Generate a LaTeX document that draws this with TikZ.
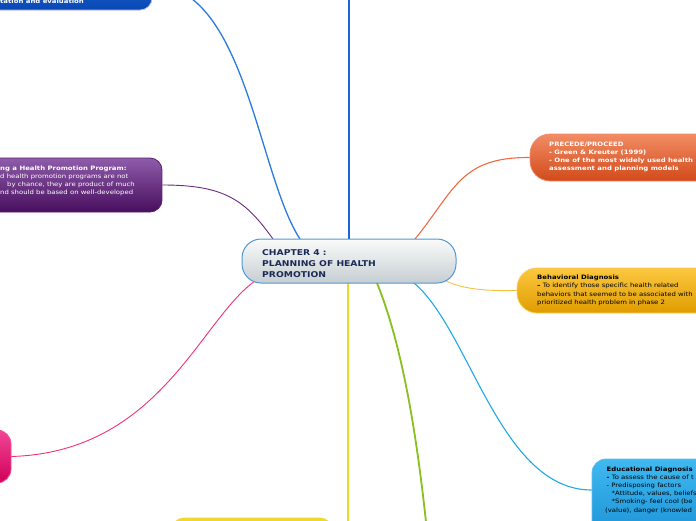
\documentclass[tikz,border=0pt]{standalone}
\usepackage{fontspec}
\setmainfont[FakeStretch=1.15]{DejaVu Sans}
\usetikzlibrary{calc}
\definecolor{cBlueLine}{HTML}{1A66D6}
\definecolor{cBlueCurve}{HTML}{2A7AE0}
\definecolor{cPurpleLine}{HTML}{6A2A80}
\definecolor{cPinkLine}{HTML}{F0307A}
\definecolor{cOrangeLine}{HTML}{F06A40}
\definecolor{cYellowLine}{HTML}{F8C040}
\definecolor{cCyanLine}{HTML}{20A8E8}
\definecolor{cGreenLine}{HTML}{88C020}
\definecolor{cYellowV}{HTML}{E8D830}
\definecolor{cNavy}{HTML}{1A2A55}
\tikzset{
  shapebox/.style={draw, rectangle, inner sep=0pt, line width=0.8pt},
  txt/.style={inner sep=0pt, anchor=base west},
  ptxt/.style={inner sep=0pt, anchor=base west, text=white, font=\fontsize{6}{8}\selectfont},
  conn/.style={line width=1.1pt},
}
\newcommand{\mylines}[1]{\begin{tabular}[t]{@{}l@{}}#1\end{tabular}}
\begin{document}
\begin{tikzpicture}[x=1pt,y=-1pt]
\useasboundingbox (0,0) rectangle (696,520);
\clip (0,0) rectangle (696,520);

\coordinate (cnA) at (349,239);
\coordinate (cnB) at (300,239);
\coordinate (cnC) at (273,239);
\coordinate (cnD) at (415,239);
\coordinate (cnE) at (446,281);
\coordinate (cnF) at (414,283);
\coordinate (cnG) at (377,283);
\coordinate (cnH) at (348,283);
\coordinate (cnI) at (255,281);
\coordinate (topEnd) at (349,-2);
\coordinate (greenEnd) at (426,522);
\coordinate (yellowEnd) at (348,522);

% nodes
\node[shapebox, draw=white!70!blue, rounded corners=12pt, minimum width=182pt, minimum height=50pt,
  top color={rgb,255:red,40;green,110;blue,220}, bottom color={rgb,255:red,8;green,72;blue,180}] (nTop) at (61,-15) {};
\node[shapebox, draw={rgb,255:red,90;green,30;blue,110}, rounded corners=12pt, minimum width=192pt, minimum height=54pt,
  top color={rgb,255:red,142;green,92;blue,170}, bottom color={rgb,255:red,72;green,14;blue,94}] (nPurple) at (66,185) {};
\node[shapebox, draw={rgb,255:red,240;green,80;blue,150}, rounded corners=14pt, minimum width=51pt, minimum height=53pt,
  top color={rgb,255:red,242;green,70;blue,150}, bottom color={rgb,255:red,208;green,0;blue,90}] (nPink) at (-14.5,456.5) {};
\node[shapebox, draw={rgb,255:red,240;green,140;blue,110}, rounded corners=20pt, minimum width=230pt, minimum height=47pt,
  top color={rgb,255:red,242;green,140;blue,100}, bottom color={rgb,255:red,210;green,74;blue,26}] (nOrange) at (645,157.5) {};
\node[shapebox, draw={rgb,255:red,250;green,205;blue,90}, rounded corners=20pt, minimum width=243pt, minimum height=45pt,
  top color={rgb,255:red,252;green,200;blue,64}, bottom color={rgb,255:red,224;green,156;blue,0}] (nYellow) at (638.5,290.5) {};
\node[shapebox, draw={rgb,255:red,90;green,190;blue,240}, rounded corners=14pt, minimum width=168pt, minimum height=101pt,
  top color={rgb,255:red,64;green,184;blue,240}, bottom color={rgb,255:red,16;green,136;blue,208}] (nCyan) at (676,509.5) {};
\node[shapebox, draw={rgb,255:red,240;green,216;blue,48}, rounded corners=12pt, minimum width=160pt, minimum height=42pt,
  fill={rgb,255:red,240;green,216;blue,48}] (nBottom) at (252,539) {};

% connectors
\draw[conn, cBlueLine, line width=1.4pt] (cnA) -- (topEnd);
\draw[conn, cBlueCurve, line width=1.3pt] (cnB) .. controls (258,175) and (245,-15) .. (nTop.east);
\draw[conn, cPurpleLine, line width=0.9pt] (cnC) .. controls (245,200) and (225,185) .. (nPurple.east);
\draw[conn, cPinkLine, line width=0.9pt] (cnI) .. controls (200,320) and (160,452) .. (nPink.east);
\draw[conn, cOrangeLine] (cnD) .. controls (455,190) and (460,157) .. (nOrange.west);
\draw[conn, cYellowLine, line width=0.9pt] (cnE) .. controls (465,290) and (490,291) .. (nYellow.west);
\draw[conn, cCyanLine] (cnF) .. controls (470,330) and (500,490) .. (nCyan.west |- 0,490);
\draw[conn, cGreenLine, line width=1.8pt] (cnG) .. controls (400,340) and (415,420) .. (greenEnd);
\draw[conn, cYellowV, line width=1.1pt] (cnH) -- (yellowEnd);

% central node
\node[shapebox, draw={rgb,255:red,79;green,152;blue,216}, line width=1pt, rounded corners=19pt, minimum width=214pt, minimum height=44pt,
  top color={rgb,255:red,250;green,251;blue,251}, bottom color={rgb,255:red,198;green,206;blue,209}] (nCenter) at (349,261) {};

% texts
\node[txt, text=cNavy] (tCenter) at (262,255)
  {\fontsize{8}{11}\selectfont\bfseries\mylines{CHAPTER 4 :\\PLANNING OF HEALTH\\PROMOTION}};
\node[txt, text=white] (tTop) at (0,3.5) {\fontsize{6}{8}\selectfont\bfseries tation and evaluation};
\node[ptxt, font=\fontsize{6}{8}\selectfont\bfseries] (tPurpleA) at (0,170) {ng a Health Promotion Program:};
\node[ptxt] (tPurpleB) at (0,178) {d health promotion programs are not};
\node[ptxt] (tPurpleC) at (7,186) {by chance, they are product of much};
\node[ptxt] (tPurpleD) at (0,194) {nd should be based on well-developed};
\node[txt, text=white] (tOrange) at (549,146)
  {\fontsize{6}{8}\selectfont\bfseries\mylines{PRECEDE/PROCEED\\- Green \& Kreuter (1999)\\- One of the most widely used health\\assessment and planning models}};
\node[txt, text=black] (tYellow) at (537,279.5)
  {\fontsize{6}{8.4}\selectfont\mylines{\textbf{Behavioral Diagnosis}\\\textbf{--} To identify those specific health related\\behaviors that seemed to be associated with\\prioritized health problem in phase 2}};
\node[txt, text=black] (tCyan) at (606.5,471.5)
  {\fontsize{6}{8.1}\selectfont\mylines{\textbf{Educational Diagnosis}\\\textbf{-} To assess the cause of t\\- Predisposing factors\\\hspace*{5pt}*Attitude, values, beliefs\\\hspace*{5pt}*Smoking- feel cool (be\\\hspace*{-1.5pt}(value), danger (knowled}};
\end{tikzpicture}
\end{document}
